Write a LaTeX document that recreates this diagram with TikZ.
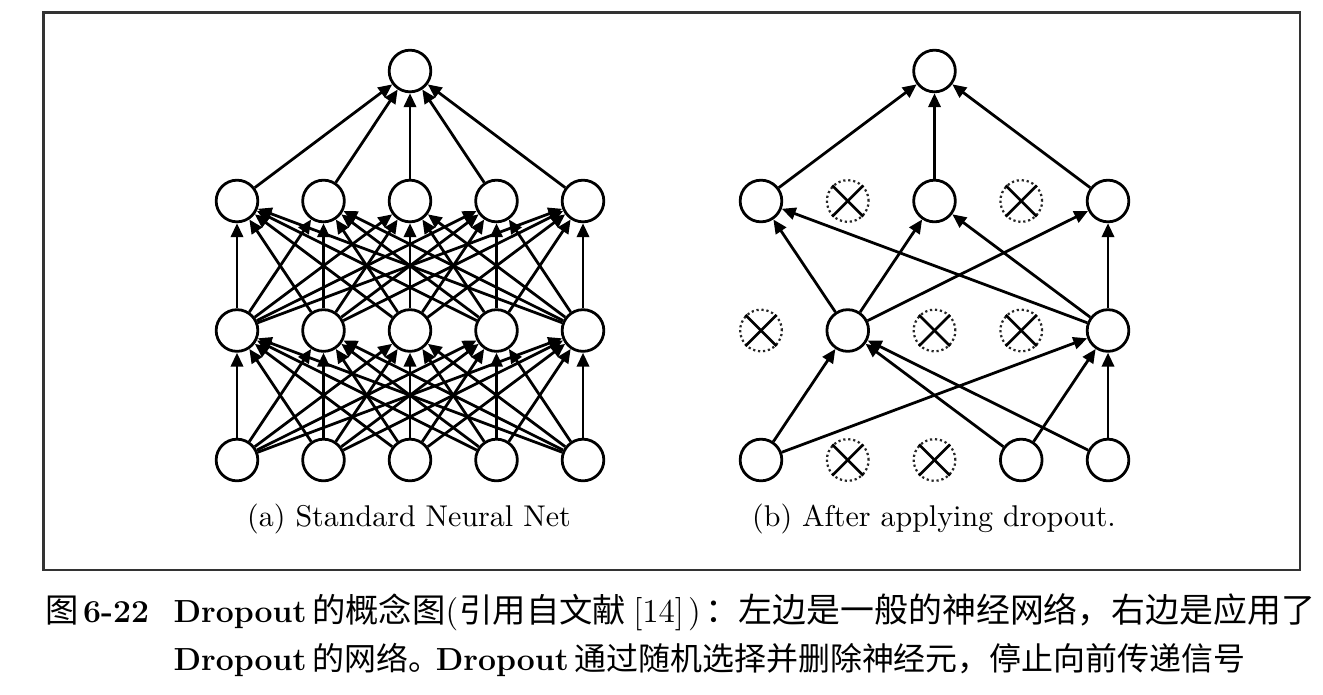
\documentclass[tikz,border=0pt]{standalone}
\usepackage{fontspec}
\newfontfamily\cjk{Noto Sans CJK SC}
\usepackage{tikz}
\usetikzlibrary{arrows.meta}

\tikzset{
neuron/.style={circle,draw=black,line width=1pt,minimum size=15pt,inner sep=0pt},
dropped/.style={circle,draw=black!85,densely dotted,line width=0.8pt,minimum size=15pt,inner sep=0pt},
link/.style={line width=1pt,-{Triangle[length=5pt,width=4.4pt]}},
crossline/.style={line width=1pt},
subcap/.style={inner sep=0pt,font=\fontsize{10.8}{13}\selectfont},
figcap/.style={anchor=base west,inner sep=0pt,font=\fontsize{12}{14}\selectfont}
}

\begin{document}
\begin{tikzpicture}[x=0.36pt,y=-0.36pt]
\useasboundingbox (0,0) rectangle (1323,694);
\draw[draw=black!80,line width=0.75pt] (43.5,12.5) rectangle (1300,570);

% (a) standard net
\foreach \i in {0,...,4}{
  \foreach \j/\y in {0/460,1/330.5,2/201}{
    \node at (237+86.5*\i,\y)[neuron](a\i\j){};
  }
}
\node at (410,71)[neuron](a23){};
\foreach \i in {0,...,4}{
  \foreach \k in {0,...,4}{
    \draw[link] (a\i0) -- (a\k1);
    \draw[link] (a\i1) -- (a\k2);
  }
  \draw[link] (a\i2) -- (a23);
}
\node at (409,519)[subcap](capa){(a) Standard Neural Net};

% (b) after dropout
\node at (761,460)[neuron](b00){};
\node at (847.75,460)[dropped](b10){};
\node at (934.5,460)[dropped](b20){};
\node at (1021.25,460)[neuron](b30){};
\node at (1108,460)[neuron](b40){};
\node at (761,330.5)[dropped](b01){};
\node at (847.75,330.5)[neuron](b11){};
\node at (934.5,330.5)[dropped](b21){};
\node at (1021.25,330.5)[dropped](b31){};
\node at (1108,330.5)[neuron](b41){};
\node at (761,201)[neuron](b02){};
\node at (847.75,201)[dropped](b12){};
\node at (934.5,201)[neuron](b22){};
\node at (1021.25,201)[dropped](b32){};
\node at (1108,201)[neuron](b42){};
\node at (934.5,71)[neuron](b23){};
\foreach \n in {b10,b20,b01,b21,b31,b12,b32}{
  \draw[crossline] (\n.45) -- (\n.225);
  \draw[crossline] (\n.135) -- (\n.315);
}
\foreach \s/\t in {b00/b11,b00/b41,b30/b11,b40/b11,b30/b41,b40/b41,
  b11/b02,b11/b22,b11/b42,b41/b02,b41/b22,b41/b42,b02/b23,b22/b23,b42/b23}{
  \draw[link] (\s) -- (\t);
}
\node at (934,519)[subcap](capb){(b) After applying dropout.};

% figure caption
\node at (45,622)[figcap](fig){{\cjk 图}\hspace{1.5pt}{\bfseries\fontsize{11.5}{14}\selectfont 6-22}};
\node at (173,622)[figcap](line1){{\bfseries\fontsize{11.5}{14}\selectfont Dropout}\hspace{2pt}{\cjk\fontsize{12}{14}\selectfont 的概念图}(\hspace{0.5pt}{\cjk 引用自文献}\hspace{2.5pt}[14]\hspace{1.5pt})\hspace{1.5pt}{\cjk\fontsize{12.2}{14}\selectfont ：左边是一般的神经网络，右边是应用了}};
\node at (173,670)[figcap](line2){{\bfseries\fontsize{11.5}{14}\selectfont Dropout}\hspace{2pt}{\cjk\fontsize{11.5}{14}\selectfont 的网络。}\hspace{-1.5pt}{\bfseries\fontsize{11.5}{14}\selectfont Dropout}\hspace{2pt}{\cjk\fontsize{11.5}{14}\selectfont 通过随机选择并删除神经元，停止向前传递信号}};
\end{tikzpicture}
\end{document}
